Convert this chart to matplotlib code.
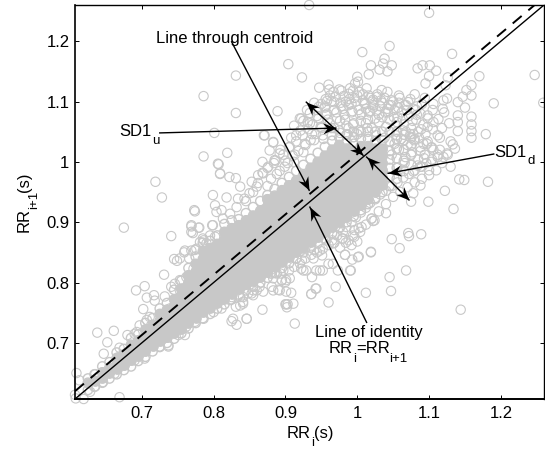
import matplotlib
matplotlib.use('Agg')
import matplotlib.pyplot as plt
from matplotlib.markers import MarkerStyle
from matplotlib.path import Path
from matplotlib.transforms import Affine2D
import math

plt.rcParams['font.family'] = 'Liberation Sans'

# points that stand apart from the cloud, read one by one
outer_x = [.831,.786,.831,.889,.904,.801,.870,.883,.819,.786,.807,.809,.719,.728,.822,.831,.837,.799,.818,.773,
           .933,1.100,1.045,1.007,1.132,1.038,1.036,1.048,1.019,1.031,1.042,1.016,.923,1.0,1.001,1.013,.960,.947,.961,.975,.988,.997,
           1.084,1.091,1.101,1.110,1.100,1.095,1.123,1.126,1.170,1.247,1.159,1.152,1.159,1.147,1.140,1.190,1.259,1.125,1.080,1.150,1.140,1.159,1.159,1.140,1.159,1.159,1.179,1.140,1.133,1.120,1.119,1.105,1.098,
           1.130,1.142,1.149,1.182,1.122,1.099,1.075,1.134,1.110,1.120,1.088,1.078,
           1.040,1.022,1.002,.996,1.071,1.072,1.089,1.048,1.059,1.019,1.002,.993,.983,1.068,.991,1.045,.970,.943,.936,1.012,1.047,.960,.902,.913,1.144,.979,.967,.951,.948,.925,.937,.901,.901,.903,.960,.973,.940,.923,
           .675,.741,.769,.780,.771,.798,.774,.745,.749,.759,.766,.731,.692,.704,.707,.717,.732,.718,.702,
           .638,.661,.652,.647,.680,.669,.693,.609,.613,.634,.607,.608,.619,.669,.628,
           .846,.825,.832,.868,.760,.900,.883,.890,.855,.831,.841,.823,.869,.879,.883,.893,.900,.895,.704,.725,.737]
outer_y = [1.143,1.109,1.081,1.084,1.162,1.048,1.044,1.032,1.015,1.009,.996,.980,.967,.941,.975,.973,.959,.945,.941,.920,
           1.26,1.247,1.192,1.182,1.179,1.171,1.163,1.160,1.160,1.153,1.150,1.145,1.140,1.141,1.133,1.122,1.128,1.123,1.120,1.120,1.113,1.130,
           1.155,1.160,1.160,1.151,1.142,1.130,1.127,1.140,1.142,1.144,1.127,1.119,1.110,1.108,1.099,1.097,1.098,1.105,1.112,1.090,1.077,1.075,1.062,1.066,1.051,1.040,1.046,1.051,1.029,1.102,1.088,1.086,1.077,
           .992,.971,.970,.967,.952,.934,.934,.922,.986,1.008,.961,.948,
           .915,.902,.890,.887,.882,.877,.880,.872,.857,.850,.843,.838,.846,.820,.820,.809,.793,.790,.781,.783,.786,.767,.759,.732,.755,.873,.865,.845,.820,.820,.809,.804,.785,.764,.831,.820,.854,.837,
           .891,.877,.893,.891,.882,.895,.918,.839,.836,.850,.840,.813,.787,.794,.775,.779,.777,.770,.756,
           .717,.720,.701,.682,.713,.692,.718,.650,.638,.648,.614,.608,.607,.610,.619,
           .740,.736,.730,.755,.713,.764,.787,.788,.779,.760,.765,.771,.785,.815,.807,.815,.801,.804,.674,.693,.694]

# rings along the edges of the band
edge_x = [.908,.901,.911,.936,.942,.892,.881,.895,.906,.881,.853,.841,.827,.846,.990,1.001,1.019,.983,.952,.943,.929,.922,.915,.939,.966,.980,.994,1.020,1.024,1.006,.976,.957,.948,.897,.888,.864,.855,.841,.825,.813,.799,.869,
          .806,.809,.802,.811,.804,.834,.843,.853,.862,.868,.878,.883,.871,.892,.906,.915,.799,.769,.779,.769,.785,.781,.760,.769,.753,.813,.823,.832,.850,.860,.869,.876,.885,.802,.790,.776,
          .711,.707,.713,.697,.690,.669,.662,.739,.732,.746,.753,.746,.753,.741,.762,.772,.774,.786,.795,
          .774,.786,.800,.811,.737,.751,.762,.837,.848,.860,.690,.676,.662,.646,.634,.837,
          .925,.934,.946,.958,.967,.981,.994,1.008,1.022,1.034,1.047,1.059,1.071,1.083,1.094,1.106,1.113,1.121,1.128,1.098,1.088,1.078,1.105,1.115,1.126,1.084,1.093,1.103,1.118]
edge_y = [.783,.764,.765,.781,.790,.787,.793,.804,.807,.815,.782,.768,.740,.740,.820,.842,.851,.846,.820,.820,.820,.823,.840,.840,.831,.873,.878,.906,.903,.892,.892,.870,.853,.820,.815,.793,.787,.776,.776,.787,.787,.815,
          .997,.981,.928,.920,.917,.939,.939,.967,.978,1.000,1.019,1.033,1.044,1.014,1.025,1.044,.895,.895,.891,.884,.873,.867,.853,.853,.840,.906,.914,.925,.948,.959,.981,.992,1.003,.876,.865,.856,
          .743,.738,.729,.729,.715,.677,.666,.757,.749,.771,.787,.798,.804,.793,.809,.823,.854,.870,.878,
          .735,.740,.751,.757,.696,.713,.727,.776,.782,.787,.671,.663,.649,.635,.627,.762,
          1.068,1.081,1.091,1.101,1.116,1.109,1.118,1.112,1.103,1.119,1.094,1.106,1.099,1.092,1.106,1.096,1.071,1.082,1.064,1.034,1.018,1.046,1.054,1.040,1.012,.994,1.006,1.024,.998]

# more single rings over the top of the band
extra_x = [.884,.893,.899,.908,.913,.921,.927,.931,.937,.944,.949,.955,.959,.964,.971,.977,.983,.989,.993,1.000,1.004,1.011,1.017,1.021,1.027,1.033,1.039,1.044,1.051,1.057,1.063,1.069,1.077,1.083,1.089,
           .968,.976,.986,.994,1.002,1.012,1.020,1.030,1.040,1.054,1.064,1.074,1.086,.912,.922,.934,.944,.956,.940,.952,.964,.976,.988,1.000,1.014,1.026,1.038,
           1.052,1.061,1.070,1.079,1.088,1.097,1.106,1.048,1.058,1.067,1.076,1.085,1.094,1.103,1.112,1.056,1.066,1.078,1.090,1.100]
extra_y = [.998,1.020,.992,1.040,1.012,1.052,1.030,1.066,1.046,1.076,1.058,1.090,1.070,1.100,1.082,1.098,1.070,1.104,1.084,1.110,1.078,1.096,1.082,1.100,1.084,1.102,1.082,1.094,1.074,1.090,1.072,1.086,1.068,1.078,1.054,
           1.056,1.068,1.046,1.062,1.052,1.064,1.056,1.066,1.058,1.044,1.052,1.046,1.040,1.060,1.072,1.064,1.086,1.078,1.036,1.044,1.056,1.048,1.056,1.046,1.056,1.044,1.040,
           1.030,1.038,1.028,1.036,1.024,1.030,1.020,1.012,1.020,1.008,1.016,1.004,1.012,1.000,1.008,.990,.998,.984,.992,.986]

# dense band, one row of y values per x column
core_columns = [.625,.635,.645,.655,.665,.675,.685,.695,.705,.715,.725,.735,.745,.755,.765,.775,.785,.795,.805,.815,.825,
                .835,.845,.855,.865,.875,.885,.895,.905,.915,.925,.935,.945,.955,.965,.975,.985,.995,1.005,1.015,1.025,1.035,1.045,1.055,1.065,1.075]
core_rows = [
    [.622,.634,.641],
    [.628,.637,.648],
    [.634,.642,.651,.661],
    [.641,.650,.659,.668],
    [.648,.657,.664,.675,.684],
    [.655,.663,.672,.681,.690],
    [.661,.671,.679,.688,.697,.708],
    [.670,.678,.687,.695,.704,.714],
    [.677,.686,.693,.702,.711,.722,.733],
    [.686,.695,.703,.712,.721,.730,.741],
    [.694,.703,.710,.719,.728,.737,.748,.757],
    [.700,.709,.718,.727,.735,.744,.755,.766],
    [.707,.716,.725,.733,.742,.750,.761,.772,.788],
    [.716,.723,.732,.741,.749,.758,.767,.778,.790,.803],
    [.724,.733,.741,.749,.758,.766,.775,.786,.799,.812,.824],
    [.733,.742,.750,.759,.767,.776,.785,.795,.807,.818,.831,.843],
    [.741,.751,.760,.768,.777,.785,.794,.803,.815,.827,.839,.852,.866],
    [.748,.758,.767,.776,.785,.794,.803,.812,.822,.833,.845,.857,.869],
    [.757,.766,.775,.784,.793,.802,.811,.820,.830,.840,.852,.864,.878],
    [.764,.773,.782,.791,.800,.809,.818,.827,.837,.848,.859,.871,.884,.897],
    [.772,.781,.790,.799,.808,.817,.826,.835,.845,.855,.866,.878,.890,.903],
    [.780,.789,.798,.807,.816,.825,.834,.843,.853,.863,.873,.884,.895,.905],
    [.787,.797,.806,.815,.823,.832,.841,.850,.860,.870,.880,.891,.903,.915],
    [.793,.803,.812,.821,.830,.839,.848,.857,.867,.877,.888,.899,.911,.925],
    [.800,.810,.819,.828,.837,.846,.855,.864,.874,.884,.895,.906,.919,.935],
    [.808,.818,.827,.836,.845,.854,.863,.872,.882,.892,.903,.914,.926,.938,.945],
    [.816,.826,.835,.844,.853,.862,.871,.880,.890,.900,.910,.921,.933,.944,.955],
    [.824,.834,.843,.852,.861,.870,.879,.888,.898,.908,.918,.929,.941,.953,.965],
    [.832,.842,.851,.860,.869,.878,.887,.896,.906,.916,.926,.937,.949,.961,.975],
    [.840,.850,.859,.868,.877,.886,.895,.904,.914,.924,.934,.945,.957,.969,.985],
    [.850,.858,.867,.876,.885,.894,.903,.912,.922,.932,.942,.953,.965,.979,.995],
    [.858,.867,.876,.885,.894,.903,.912,.921,.931,.941,.951,.962,.975,.990,1.005],
    [.865,.875,.884,.893,.902,.911,.920,.929,.939,.949,.959,.970,.984,1.000,1.015],
    [.873,.883,.892,.901,.910,.919,.928,.937,.947,.957,.968,.980,.995,1.010,1.025],
    [.882,.892,.901,.910,.919,.928,.937,.946,.956,.966,.977,.990,1.005,1.020,1.035],
    [.890,.900,.909,.918,.927,.936,.945,.954,.964,.974,.986,1.000,1.014,1.028,1.040],
    [.900,.909,.918,.927,.936,.945,.954,.963,.973,.984,.996,1.010,1.022,1.034,1.045],
    [.910,.918,.927,.936,.945,.954,.963,.972,.982,.994,1.006,1.018,1.030,1.041,1.050],
    [.920,.928,.937,.946,.955,.964,.973,.982,.992,1.003,1.015,1.026,1.038,1.050],
    [.930,.938,.947,.956,.965,.974,.983,.993,1.003,1.014,1.026,1.038,1.050],
    [.940,.950,.960,.970,.980,.990,1.000,1.011,1.022,1.034,1.050],
    [.950,.962,.974,.986,.998,1.010,1.022,1.036,1.050],
    [.960,.975,.990,1.004,1.018,1.034,1.050],
    [.972,.990,1.006,1.022,1.038,1.050],
    [.985,1.002,1.020,1.036,1.045],
    [.995,1.012,1.028,1.040],
]

# looser rings above the band, where single circles still show
upper_x = [.845,.855,.862,.868,.875,.880,.886,.892,.897,.903,.905,.910,.915,.918,.924,.928,.932,.935,.938,.942,.946,.950,.953,.958,.962,.965,.968,.972,.975,.978,
           .982,.985,.988,.992,.995,.998,1.002,1.005,1.008,1.012,1.015,1.018,1.022,1.025,1.028,1.032,1.035,1.038,1.042,1.045,1.048,1.052,1.055,1.058,1.062,1.065,1.068,1.072,1.075,1.078,1.082,1.085,1.088,1.092,1.095,1.098,
           .950,.956,.962,.970,.978,.984,.990,.996,1.003,1.010,1.016,1.022,1.028,1.035,1.042,1.050,1.058,1.066,1.074,1.082,1.090,1.098,1.106,1.112,1.118,
           .920,.930,.940,.955,.968,.980,.992,1.006,1.018,1.030,1.043,1.056,1.068,1.080,1.092,1.104,1.115,1.125,1.130,1.136,.875,.888,.900,.912,.925]
upper_y = [.935,.950,.965,.982,.990,.972,1.002,.985,1.012,.998,1.024,1.010,1.034,1.018,1.044,1.028,1.054,1.036,1.062,1.046,1.072,1.056,1.038,1.080,1.064,1.044,1.086,1.072,1.052,1.092,
           1.078,1.060,1.094,1.082,1.064,1.100,1.086,1.068,1.102,1.088,1.070,1.106,1.090,1.072,1.108,1.092,1.074,1.106,1.088,1.070,1.102,1.086,1.066,1.098,1.082,1.062,1.094,1.076,1.056,1.088,1.070,1.050,1.080,1.062,1.046,1.072,
           1.096,1.104,1.110,1.108,1.118,1.100,1.122,1.106,1.116,1.098,1.110,1.094,1.112,1.098,1.116,1.100,1.110,1.094,1.104,1.086,1.096,1.058,1.066,1.044,1.056,
           1.072,1.086,1.098,1.092,1.099,1.088,1.096,1.080,1.084,1.078,1.082,1.074,1.050,1.038,1.030,1.024,1.020,1.014,1.034,1.022,.960,.980,1.002,1.000,1.016]

# fringe under the band on the right hand side
lower_x = [.985,.992,.998,1.005,1.012,1.018,1.025,1.032,1.040,1.048,1.056,1.064,1.072,1.080,1.088,1.096,1.104,1.112,.965,.972,.980,.988,.996,1.004,1.012,1.020,1.030,1.040,1.050,1.060,1.070,1.080,1.090,1.100,
           .905,.912,.920,.928,.936,.944,.952,.960,.968,.976,.984,.992,1.000]
lower_y = [.892,.900,.908,.916,.924,.932,.938,.946,.952,.960,.966,.974,.980,.986,.992,.998,1.004,1.012,.870,.878,.884,.870,.876,.884,.896,.906,.918,.930,.942,.950,.958,.966,.972,.978,
           .820,.826,.832,.840,.846,.850,.856,.862,.866,.858,.866,.862,.868]

lim_lo, lim_hi = 0.607, 1.26
ticks = [0.7, 0.8, 0.9, 1, 1.1, 1.2]
tick_labels = ['0.7', '0.8', '0.9', '1', '1.1', '1.2']
centroid_offset = 0.013
ring_color = '#c8c8c8'

core_x = []
core_y = []
fill_x = []
fill_y = []
for x, row in zip(core_columns, core_rows):
    for n, y in enumerate(row):
        core_x.append(x)
        core_y.append(y)
        # the cloud opens up into single rings past the top right
        if 0 < n < len(row) - 1 and y < 1.03 and x < 1.04:
            fill_x.append(x)
            fill_y.append(y)

fig = plt.figure(figsize=(5.45, 4.49), dpi=100)
ax = fig.add_axes([75 / 545, 1 - 399 / 449, 469 / 545, 394 / 449])

ax.scatter(core_x, core_y, s=45, facecolors='none', edgecolors=ring_color, linewidths=1.0)
ax.scatter(fill_x, fill_y, s=60, color=ring_color, linewidths=0)
for xs, ys in [(upper_x, upper_y), (lower_x, lower_y), (edge_x, edge_y), (extra_x, extra_y)]:
    ax.scatter(xs, ys, s=45, facecolors='none', edgecolors=ring_color, linewidths=0.8)
ax.scatter(outer_x, outer_y, s=45, facecolors='none', edgecolors=ring_color, linewidths=0.8, clip_on=False)

ax.plot([lim_lo, lim_hi], [lim_lo, lim_hi], color='k', lw=1.0)
ax.plot([lim_lo, lim_hi], [lim_lo + centroid_offset, lim_hi + centroid_offset], color='k', lw=1.4, dashes=(6, 4.5))

ax.set_xlim(lim_lo, lim_hi)
ax.set_ylim(lim_lo, lim_hi)
ax.set_xticks(ticks)
ax.set_yticks(ticks)
ax.set_xticklabels(tick_labels)
ax.set_yticklabels(tick_labels)
ax.tick_params(direction='in', top=True, right=True, length=3, width=0.7, labelsize=12)
ax.tick_params(axis='x', pad=5)
ax.tick_params(axis='y', pad=4)
for side in ax.spines:
    ax.spines[side].set_linewidth(1.0)
ax.spines['left'].set_linewidth(1.2)
ax.spines['bottom'].set_linewidth(1.4)

head = Path([(0, 0), (-1, .42), (-.68, 0), (-1, -.42), (0, 0)], closed=True)


def arrow_head(tip, tail):
    a = ax.transData.transform(tail)
    b = ax.transData.transform(tip)
    angle = math.degrees(math.atan2(b[1] - a[1], b[0] - a[0]))
    marker = MarkerStyle(head, transform=Affine2D().rotate_deg(angle))
    ax.plot([tip[0]], [tip[1]], marker=marker, ms=19, color='k', mew=0, zorder=5)


def arrow(tail, tip, both=False):
    ax.plot([tail[0], tip[0]], [tail[1], tip[1]], color='k', lw=1.0, zorder=4)
    arrow_head(tip, tail)
    if both:
        arrow_head(tail, tip)


arrow((.825, 1.199), (.933, .953))
arrow((.725, 1.048), (.970, 1.056))
arrow((1.190, 1.013), (1.043, .981))
arrow((1.013, .734), (.934, .925))
arrow((1.008, 1.011), (.929, 1.099), both=True)
arrow((1.013, 1.008), (1.072, .937), both=True)


def label(px, py, s, size=12, **kw):
    fig.text(px / 545, 1 - py / 449, s, fontsize=size, va='baseline', ha='left', **kw)


label(156, 43, 'Line through centroid')
label(119, 136, 'SD1')
label(152, 144, 'u', 9.5)
label(494, 157, 'SD1')
label(527, 164, 'd', 9.5)
label(315, 337, 'Line of identity')
label(329, 353, 'RR')
label(353, 362, 'i', 9.5)
label(356, 353, '=RR')
label(389, 362, 'i+1', 9.5)
label(287, 438, 'RR')
label(311, 446, 'i', 9.5)
label(314, 438, '(s)')
label(29, 232, 'RR', rotation=90, rotation_mode='anchor')
label(37, 209, 'i+1', 9.5, rotation=90, rotation_mode='anchor')
label(29, 192, '(s)', rotation=90, rotation_mode='anchor')

fig.savefig('out.png', dpi=100)
